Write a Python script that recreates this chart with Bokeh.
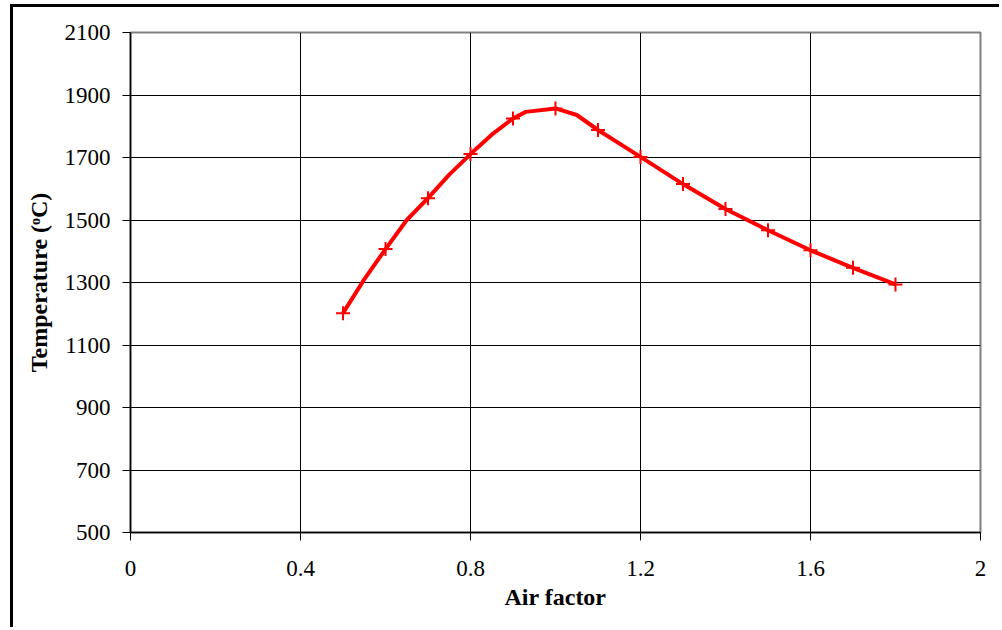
from bokeh.plotting import figure
from bokeh.models import FixedTicker, ColumnDataSource
from bokeh.embed import file_html
from bokeh.resources import INLINE

# marker data (air factor vs. adiabatic temperature)
air_factor = [0.5, 0.6, 0.7, 0.8, 0.9, 1.0, 1.1, 1.2, 1.3, 1.4, 1.5, 1.6, 1.7, 1.8]
temperature = [1202, 1407, 1570, 1711, 1825, 1857, 1788, 1702, 1615, 1535, 1467, 1403, 1347, 1294]

# smoothed curve through the points
curve_x = [0.5, 0.55, 0.6, 0.65, 0.7, 0.75, 0.8, 0.85, 0.9, 0.93, 1.0, 1.05, 1.1, 1.2, 1.3, 1.4, 1.5, 1.6, 1.7, 1.8]
curve_y = [1202, 1310, 1407, 1500, 1570, 1645, 1711, 1773, 1825, 1846, 1857, 1836, 1788, 1702, 1615, 1535, 1467, 1403, 1347, 1294]

x_ticks = [0, 0.4, 0.8, 1.2, 1.6, 2.0]
x_tick_labels = ["0", "0.4", "0.8", "1.2", "1.6", "2"]
y_ticks = [500, 700, 900, 1100, 1300, 1500, 1700, 1900, 2100]

FONT = "Liberation Serif"

p = figure(width=989, height=623, x_range=(0, 2), y_range=(500, 2100),
           output_backend="svg", toolbar_location=None,
           min_border_left=117, min_border_right=22, min_border_top=25, min_border_bottom=98)
p.styles = {"border-left": "3px solid black", "border-top": "3px solid black",
            "margin-left": "10px", "margin-top": "4px"}
p.background_fill_color = "white"
p.border_fill_color = "white"
p.outline_line_color = "#808080"
p.outline_line_width = 2

src_curve = ColumnDataSource(dict(x=curve_x, y=curve_y))
src_pts = ColumnDataSource(dict(x=air_factor, y=temperature))
p.line("x", "y", source=src_curve, line_color="#ff0000", line_width=4)
p.scatter("x", "y", source=src_pts, marker="cross", size=14, line_color="#ff0000", line_width=2)

p.xaxis.ticker = FixedTicker(ticks=x_ticks)
p.xaxis.major_label_overrides = {t: l for t, l in zip(x_ticks, x_tick_labels)}
p.yaxis.ticker = FixedTicker(ticks=y_ticks)

for ax in (p.xaxis[0], p.yaxis[0]):
    ax.axis_line_color = "black"
    ax.axis_line_width = 1.5
    ax.major_tick_line_color = "black"
    ax.major_tick_out = 8
    ax.major_tick_in = 0
    ax.minor_tick_line_color = None
    ax.major_label_text_font = FONT
    ax.major_label_text_font_size = "23px"
    ax.major_label_text_color = "black"
    ax.axis_label_text_font = FONT
    ax.axis_label_text_font_style = "bold"
    ax.axis_label_text_font_size = "24px"
    ax.axis_label_text_color = "black"

p.xaxis.axis_label = "Air factor"
p.yaxis.axis_label = "Temperature (ᵒC)"
p.xaxis.major_label_standoff = 20
p.yaxis.major_label_standoff = 12
p.xaxis.axis_label_standoff = 5
p.yaxis.axis_label_standoff = 10

p.xgrid.grid_line_color = "black"
p.ygrid.grid_line_color = "black"
p.xgrid.grid_line_width = 1
p.ygrid.grid_line_width = 1

open("out.html", "w").write(file_html(p, INLINE))
